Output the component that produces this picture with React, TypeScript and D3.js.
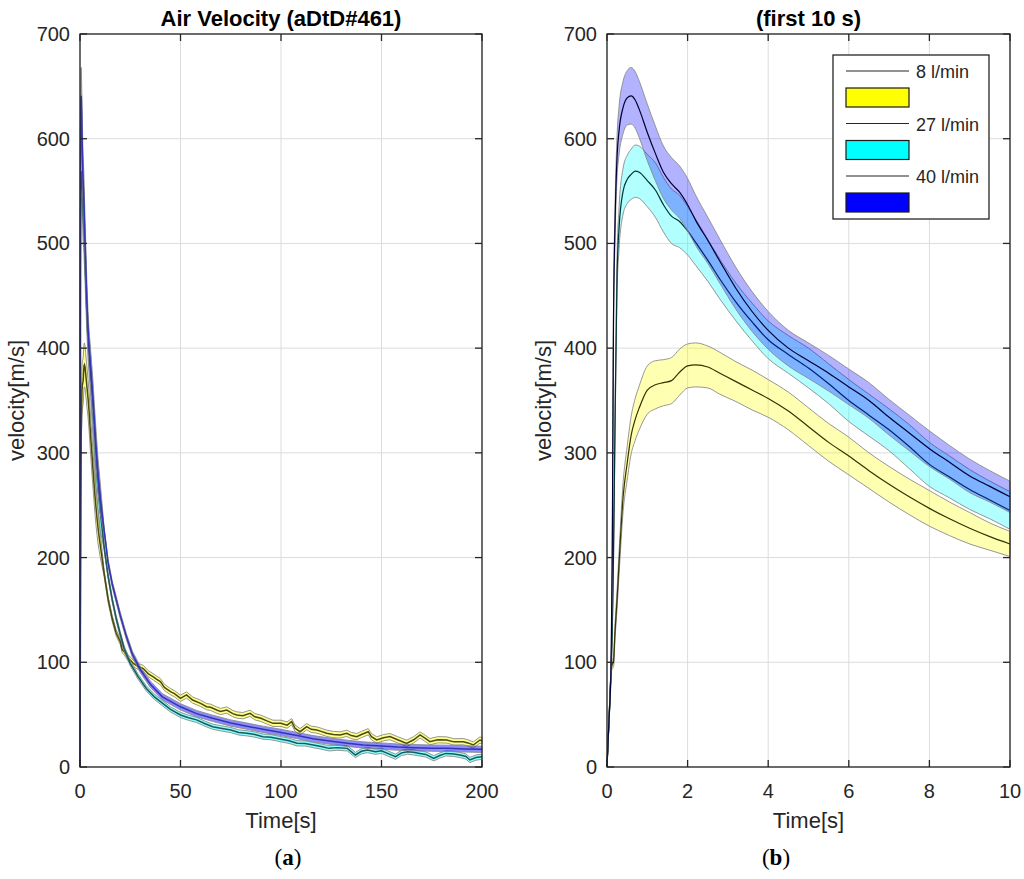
import * as d3 from "d3";

// ---- first 10 s (right panel, also the head of the left panel) ----
const R_T = [0, 0.05, 0.1, 0.13, 0.16, 0.2, 0.25, 0.3, 0.4, 0.5, 0.6, 0.7, 0.8, 1.0, 1.2, 1.4, 1.6, 1.8, 2.0, 2.2, 2.5, 2.8, 3.2, 3.6, 4.0, 4.5, 5.0, 5.5, 6.0, 6.5, 7.0, 7.5, 8.0, 8.5, 9.0, 9.5, 10];

const R_V8 = [0, 45, 90, 98, 100, 130, 160, 195, 258, 290, 317, 332, 343, 360, 365, 367, 369, 377, 383, 384, 382, 376, 368, 360, 352, 340, 325, 310, 297, 283, 270, 258, 247, 237, 228, 220, 213];
const R_SD8 = [0, 2, 3, 4, 5, 7, 9, 11, 14, 16, 18, 20, 21, 23, 23, 22, 22, 22, 21, 21, 20, 20, 19, 19, 18, 18, 18, 18, 18, 17, 17, 17, 17, 16, 15, 13, 12];

const R_V27 = [0, 45, 92, 130, 200, 330, 470, 515, 550, 561, 566, 569, 568, 560, 551, 537, 526, 521, 512, 501, 484, 466, 444, 425, 408, 394, 381, 366, 350, 336, 322, 306, 289, 277, 265, 255, 245];
const R_SD27 = [0, 3, 5, 7, 10, 14, 18, 20, 22, 23, 24, 25, 25, 25, 26, 26, 26, 25, 23, 22, 20, 19, 18, 18, 18, 18, 19, 19, 20, 20, 20, 21, 21, 20, 19, 18, 18];

const R_V40 = [0, 45, 95, 200, 420, 520, 583, 608, 630, 639, 641, 637, 628, 606, 586, 568, 557, 549, 537, 522, 503, 483, 457, 435, 417, 400, 388, 376, 363, 350, 334, 319, 304, 291, 278, 268, 258];
const R_SD40 = [0, 3, 5, 8, 12, 16, 20, 23, 25, 26, 27, 27, 27, 27, 26, 25, 25, 25, 25, 24, 22, 21, 20, 19, 18, 17, 17, 17, 17, 17, 17, 17, 17, 16, 16, 15, 15];

// ---- 10 s .. 200 s (left panel tail) ----
const L_T8 = [12, 14, 16, 18, 20, 21, 22, 24, 26.5, 29, 31.5, 34, 36.5, 38, 40, 42, 45, 47, 50, 53, 56, 60, 63, 65, 68, 70, 73, 76, 78, 81, 84.6, 87, 90, 93, 96, 100, 103, 105.3, 107, 109.5, 112.8, 115, 117.8, 120, 122.7, 126, 129.4, 132.7, 135, 137.7, 140, 143.4, 145, 147.6, 151, 154.2, 158, 162.5, 166, 169.2, 172, 174.1, 178, 182.4, 186, 190.7, 193, 195.7, 199, 200];
const L_V8 = [185, 160, 142, 128, 120, 112, 110, 104, 99, 96, 94, 89, 86, 84, 81.5, 76, 72, 70, 65.6, 68.8, 64, 60.8, 57.6, 57, 54.4, 53, 54.4, 51, 49.7, 49, 51.3, 48, 46.5, 44, 41.7, 41.7, 40, 43.3, 37, 33.7, 38.5, 36, 35.3, 34, 32.2, 31, 30.6, 32.2, 30, 29, 31, 33.7, 29, 25.8, 28, 29, 26, 22.6, 26, 30.6, 27, 24.2, 26, 25.8, 24, 24.2, 23, 21, 25.8, 25];

const L_T27 = [12, 14, 16, 18, 20, 22, 25, 29, 33, 37, 41, 45, 50, 54, 58, 62, 66, 70, 75, 79, 83, 87, 91, 95, 100, 104, 108, 112, 116, 120, 124, 128, 133, 137, 140, 143, 147, 150, 153, 157, 160, 163, 166, 169, 172, 176, 179, 182, 186, 189, 192, 194, 197, 200];
const L_V27 = [210, 182, 160, 142, 127, 113, 99, 86, 75, 67, 61, 55, 49.7, 47, 45, 41.5, 38.5, 37, 35.3, 33, 32.2, 31, 29, 28.5, 26.5, 25, 22.6, 22.5, 21, 19.5, 17.8, 18.5, 17.8, 11.5, 15, 16.2, 14.6, 15.5, 13, 9.8, 13.5, 14.6, 14, 13, 12, 8.3, 11, 13, 12.5, 11.5, 10, 6.7, 9, 9.8];

const L_T40 = [12, 14, 16, 18, 20, 23, 26, 30, 35, 41, 50, 58, 66, 75, 83, 91, 100, 108, 116, 125, 133, 141, 150, 158, 166, 175, 183, 191, 200];
const L_V40 = [226, 195, 175, 160, 145, 125, 108, 93, 79, 67, 57.5, 51, 46.5, 42, 39, 36, 33, 30, 27, 24.5, 22.6, 21, 20, 19, 18.4, 18, 17.8, 17.3, 16.9];

// half width of the shaded band after 10 s
const TAIL_SD8 = 3;
const TAIL_SD27 = 2.5;
const TAIL_SD40 = 3;

const Y_TICKS = [0, 100, 200, 300, 400, 500, 600, 700];
const LEFT_X_TICKS = [0, 50, 100, 150, 200];
const RIGHT_X_TICKS = [0, 2, 4, 6, 8, 10];
const SERIES_NAMES = ["8 l/min", "27 l/min", "40 l/min"];
const BAND_COLORS = ["#ffff00", "#00ffff", "#0000ff"];

const FONT = "'Liberation Sans', Arial, Helvetica, sans-serif";
const SERIF = "'Liberation Serif', 'DejaVu Serif', serif";
const AXIS_COLOR = "#262626";

interface Pt {
  t: number;
  v: number;
  sd: number;
}

const zip = (ts: number[], vs: number[], sd: number[] | number): Pt[] =>
  ts.map((t, i) => ({ t, v: vs[i], sd: typeof sd === "number" ? sd : sd[i] }));

const right8 = zip(R_T, R_V8, R_SD8);
const right27 = zip(R_T, R_V27, R_SD27);
const right40 = zip(R_T, R_V40, R_SD40);

const left8 = [...right8, ...zip(L_T8, L_V8, TAIL_SD8)];
const left27 = [...right27, ...zip(L_T27, L_V27, TAIL_SD27)];
const left40 = [...right40, ...zip(L_T40, L_V40, TAIL_SD40)];

interface PanelProps {
  x0: number;
  x1: number;
  xMax: number;
  xTicks: number[];
  title: string;
  caption: string;
  captionX: number;
  series: Pt[][];
  lineColors: string[];
  bandOpacity: number;
  lineWidth: number;
  curve: d3.CurveFactory;
  legend?: boolean;
}

const Y0 = 34;
const Y1 = 767;

function Panel(p: PanelProps) {
  const x = d3.scaleLinear().domain([0, p.xMax]).range([p.x0, p.x1]);
  const y = d3.scaleLinear().domain([0, 700]).range([Y1, Y0]);
  const tick = 7;

  const area = d3
    .area<Pt>()
    .x((d) => x(d.t))
    .y0((d) => y(Math.max(0, d.v - d.sd)))
    .y1((d) => y(d.v + d.sd))
    .curve(p.curve);
  const line = d3
    .line<Pt>()
    .x((d) => x(d.t))
    .y((d) => y(d.v))
    .curve(p.curve);

  const midX = (p.x0 + p.x1) / 2;
  const midY = (Y0 + Y1) / 2;

  return (
    <g>
      {/* grid */}
      <g stroke="#dcdcdc" strokeWidth={1}>
        {p.xTicks.map((t) => (
          <line key={"gx" + t} x1={x(t)} x2={x(t)} y1={Y0} y2={Y1} />
        ))}
        {Y_TICKS.map((v) => (
          <line key={"gy" + v} x1={p.x0} x2={p.x1} y1={y(v)} y2={y(v)} />
        ))}
      </g>

      {/* bands and mean lines */}
      {p.series.map((s, i) => (
        <g key={"s" + i}>
          <path
            d={area(s) ?? ""}
            fill={BAND_COLORS[i]}
            fillOpacity={p.bandOpacity}
            stroke="#8a8a8a"
            strokeWidth={0.9}
          />
          <path
            d={line(s) ?? ""}
            fill="none"
            stroke={p.lineColors[i]}
            strokeWidth={p.lineWidth}
          />
        </g>
      ))}

      {/* axes box and ticks */}
      <rect
        x={p.x0}
        y={Y0}
        width={p.x1 - p.x0}
        height={Y1 - Y0}
        fill="none"
        stroke={AXIS_COLOR}
        strokeWidth={1.3}
      />
      <g stroke={AXIS_COLOR} strokeWidth={1.3}>
        {p.xTicks.map((t) => (
          <g key={"tx" + t}>
            <line x1={x(t)} x2={x(t)} y1={Y1} y2={Y1 - tick} />
            <line x1={x(t)} x2={x(t)} y1={Y0} y2={Y0 + tick} />
          </g>
        ))}
        {Y_TICKS.map((v) => (
          <g key={"ty" + v}>
            <line x1={p.x0} x2={p.x0 + tick} y1={y(v)} y2={y(v)} />
            <line x1={p.x1} x2={p.x1 - tick} y1={y(v)} y2={y(v)} />
          </g>
        ))}
      </g>

      {/* tick labels */}
      <g fontFamily={FONT} fontSize={20} fill={AXIS_COLOR}>
        {p.xTicks.map((t) => (
          <text key={"lx" + t} x={x(t)} y={Y1 + 24} dy="0.35em" textAnchor="middle">
            {t}
          </text>
        ))}
        {Y_TICKS.map((v) => (
          <text key={"ly" + v} x={p.x0 - 10} y={y(v)} dy="0.35em" textAnchor="end">
            {v}
          </text>
        ))}
      </g>

      {/* labels */}
      <text
        x={midX}
        y={828}
        textAnchor="middle"
        fontFamily={FONT}
        fontSize={22}
        fill={AXIS_COLOR}
      >
        Time[s]
      </text>
      <text
        transform={`translate(${p.x0 - 56},${midY}) rotate(-90)`}
        textAnchor="middle"
        fontFamily={FONT}
        fontSize={22}
        fill={AXIS_COLOR}
      >
        velocity[m/s]
      </text>
      <text
        x={midX}
        y={26}
        textAnchor="middle"
        fontFamily={FONT}
        fontSize={22}
        fontWeight="bold"
        fill="#000"
      >
        {p.title}
      </text>
      <text x={p.captionX} y={865} textAnchor="middle" fontFamily={SERIF} fontSize={23} fill="#000">
        (<tspan fontWeight="bold">{p.caption}</tspan>)
      </text>

      {p.legend && <Legend />}
    </g>
  );
}

function Legend() {
  const bx = 833;
  const by = 55;
  const bw = 156;
  const bh = 164;
  const step = 52.5;
  return (
    <g>
      <rect x={bx} y={by} width={bw} height={bh} fill="#fff" stroke={AXIS_COLOR} strokeWidth={1.3} />
      {SERIES_NAMES.map((name, i) => {
        const ly = by + 16 + i * step;
        return (
          <g key={name}>
            <line x1={bx + 13} x2={bx + 76} y1={ly} y2={ly} stroke={AXIS_COLOR} strokeWidth={1.2} />
            <text
              x={bx + 83}
              y={ly + 1}
              dy="0.35em"
              fontFamily={FONT}
              fontSize={18}
              fill={AXIS_COLOR}
            >
              {name}
            </text>
            <rect
              x={bx + 13}
              y={ly + 17}
              width={63}
              height={19}
              fill={BAND_COLORS[i]}
              stroke="#1a1a1a"
              strokeWidth={1.2}
            />
          </g>
        );
      })}
    </g>
  );
}

export default function App() {
  return (
    <>
      <style>{`body{margin:0;background:#fff}`}</style>
      <svg width={1024} height={879} style={{ display: "block" }}>
        <rect width={1024} height={879} fill="#fff" />
        <Panel
          x0={80}
          x1={482}
          xMax={200}
          xTicks={LEFT_X_TICKS}
          title="Air Velocity (aDtD#461)"
          caption="a"
          captionX={288}
          series={[left8, left27, left40]}
          lineColors={["#4a4a10", "#1a5a5a", "#3434b4"]}
          bandOpacity={0.45}
          lineWidth={1.5}
          curve={d3.curveLinear}
        />
        <Panel
          x0={607}
          x1={1010}
          xMax={10}
          xTicks={RIGHT_X_TICKS}
          title="(first 10 s)"
          caption="b"
          captionX={776}
          series={[right8, right27, right40]}
          lineColors={["#333300", "#003333", "#000033"]}
          bandOpacity={0.3}
          lineWidth={1.2}
          curve={d3.curveMonotoneX}
          legend
        />
      </svg>
    </>
  );
}
